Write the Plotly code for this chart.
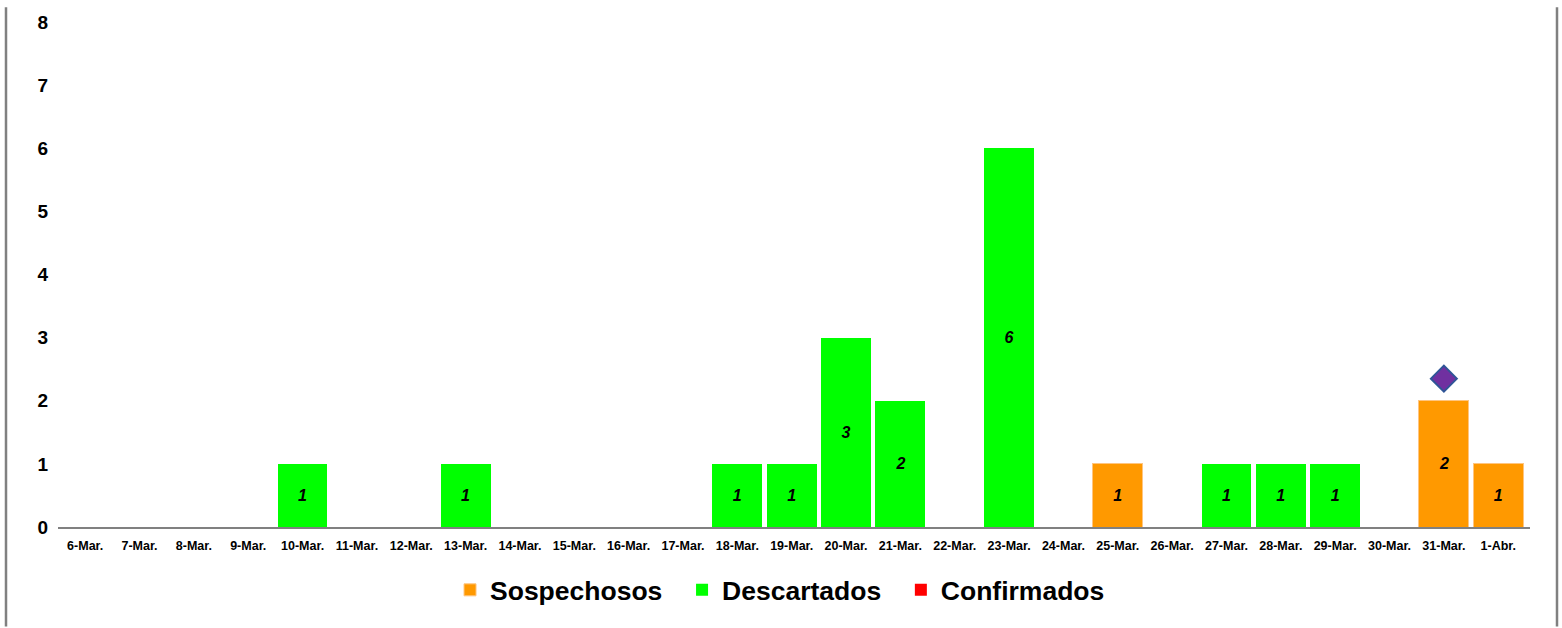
import plotly.graph_objects as go

categories = ["6-Mar.", "7-Mar.", "8-Mar.", "9-Mar.", "10-Mar.", "11-Mar.", "12-Mar.", "13-Mar.",
              "14-Mar.", "15-Mar.", "16-Mar.", "17-Mar.", "18-Mar.", "19-Mar.", "20-Mar.", "21-Mar.",
              "22-Mar.", "23-Mar.", "24-Mar.", "25-Mar.", "26-Mar.", "27-Mar.", "28-Mar.", "29-Mar.",
              "30-Mar.", "31-Mar.", "1-Abr."]
sospechosos = [0, 0, 0, 0, 0, 0, 0, 0, 0, 0, 0, 0, 0, 0, 0, 0, 0, 0, 0, 1, 0, 0, 0, 0, 0, 2, 1]
descartados = [0, 0, 0, 0, 1, 0, 0, 1, 0, 0, 0, 0, 1, 1, 3, 2, 0, 6, 0, 0, 0, 1, 1, 1, 0, 0, 0]
confirmados = [0] * 27
marker_cat = ["31-Mar."]
marker_val = [2.35]

W, H = 1562, 628
ML, MR, MT, MB = 58, 32, 15, 101
PW, PH = W - ML - MR, H - MT - MB

def labels(vals):
    return [str(v) if v else "" for v in vals]

txtfont = dict(family="Liberation Sans, Arial", size=16, color="black", weight="bold", style="italic")
PAD = "\u00a0\u00a0"

fig = go.Figure()
fig.add_trace(go.Bar(name="Sospechosos" + PAD, x=categories, y=sospechosos,
                     marker=dict(color="#FF9900", line=dict(color="#FFC580", width=1)),
                     text=labels(sospechosos), textposition="inside", insidetextanchor="middle",
                     textfont=txtfont, textangle=0))
fig.add_trace(go.Bar(name="Descartados" + PAD, x=categories, y=descartados,
                     marker=dict(color="#00FF00", line=dict(color="#00FF00", width=0)),
                     text=labels(descartados), textposition="inside", insidetextanchor="middle",
                     textfont=txtfont, textangle=0))
fig.add_trace(go.Bar(name="Confirmados", x=categories, y=confirmados,
                     marker=dict(color="#FF0000", line=dict(width=0)),
                     text=labels(confirmados), textposition="inside", textfont=txtfont))
fig.add_trace(go.Scatter(x=marker_cat, y=marker_val, mode="markers", showlegend=False,
                         marker=dict(symbol="diamond", size=20, color="#7030A0",
                                     line=dict(color="#2F5597", width=2))))

def px_x(p):
    return (p - ML) / PW

def px_y(p):
    return (H - MB - p) / PH

for xp in (6, 1557):
    fig.add_shape(type="line", xref="paper", yref="paper", x0=px_x(xp), x1=px_x(xp),
                  y0=px_y(H), y1=px_y(0), line=dict(color="#808080", width=2.5))

fig.update_layout(
    width=W, height=H, barmode="stack", bargap=0.083,
    margin=dict(l=ML, r=MR, t=MT, b=MB),
    plot_bgcolor="white", paper_bgcolor="white",
    font=dict(family="Liberation Sans, Arial", color="black"),
    legend=dict(orientation="h", x=0.4905, xanchor="center", y=px_y(591), yanchor="middle",
                font=dict(size=26.5, weight="bold", family="Liberation Sans, Arial"),
                itemwidth=30, tracegroupgap=0, traceorder="normal"),
    xaxis=dict(type="category", showgrid=False, showline=True, linecolor="#808080", linewidth=2,
               ticks="", tickfont=dict(size=12.5, weight="bold"), tickangle=0, ticklabelstandoff=6),
    yaxis=dict(range=[0, 8], dtick=1, showgrid=False, zeroline=False, showline=False,
               ticks="", tickfont=dict(size=19, weight="bold"), ticklabelstandoff=9),
)

fig.write_html("out.html", config={"displayModeBar": False},
               post_script="document.body.style.margin='0px';document.body.style.overflow='hidden';")
